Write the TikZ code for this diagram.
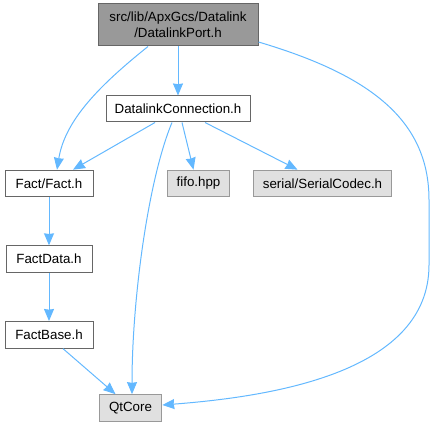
\documentclass[tikz,border=0pt]{standalone}
\usepackage{fontspec}
\setmainfont{Liberation Sans}
\usepackage{xcolor}
\usepackage{tikz}
\usetikzlibrary{arrows.meta, positioning, calc}
\definecolor{edgeblue}{HTML}{63B8FF}
\definecolor{hdrfill}{HTML}{999999}
\definecolor{hdrline}{HTML}{666666}
\definecolor{sysfill}{HTML}{E0E0E0}
\definecolor{sysline}{HTML}{999999}
\tikzstyle{hdr} = [rectangle, draw=hdrline, fill=hdrfill, line width=0.75pt, minimum width=120pt, minimum height=31.5pt, inner sep=0pt, align=center, font=\fontsize{10}{12}\selectfont]
\tikzstyle{file} = [rectangle, draw=hdrline, fill=white, line width=0.75pt, minimum height=20pt, inner sep=0pt, text centered, font=\fontsize{10}{12}\selectfont]
\tikzstyle{sys} = [rectangle, draw=sysline, fill=sysfill, line width=0.75pt, minimum height=20pt, inner sep=0pt, text centered, font=\fontsize{10}{12}\selectfont]
\tikzstyle{dep} = [-{Stealth[length=9pt, width=7.5pt, inset=0.5pt]}, draw=edgeblue, line width=0.75pt]

\begin{document}
\begin{tikzpicture}[x=0.75pt, y=-0.75pt]
  \useasboundingbox (0,0) rectangle (435,427);
  % Row 0 (the header itself)
  \node[hdr] (port) at (178,25) {src/lib/ApxGcs/Datalink\\/DatalinkPort.h};
  % Row 1
  \node[file, minimum width=108pt, minimum height=19.5pt] (conn) at (178,109) {DatalinkConnection.h};
  % Row 2
  \node[file, minimum width=66pt] (fact) at (49,183.5) {Fact/Fact.h};
  \node[sys, minimum width=47pt] (fifo) at (198.5,183.5) {fifo.hpp};
  \node[sys, minimum width=104pt] (codec) at (322.5,183.5) {serial/SerialCodec.h};
  % Fact chain
  \node[file, minimum width=64.5pt, below=36pt of fact] (fdata) {FactData.h};
  \node[file, minimum width=66pt, below=36pt of fdata] (fbase) {FactBase.h};
  % Qt
  \node[sys, minimum width=47pt] (qt) at (130.5,408) {QtCore};
  \draw[dep] (port.south) -- (conn.north);
  \draw[dep] ($(port.south)+(-30,0)$) .. controls (100,85) and (65,120) .. ($(fact.north)+(8,0)$);
  \draw[dep] ($(port.east)+(0,17)$) .. controls (370,75) and (429,120) .. (429,200)
    -- (429,265) .. controls (429,370) and (280,396) .. ($(qt.east)+(0,-3)$);
  \draw[dep] ($(conn.south)+(-23,0)$) -- ($(fact.north)+(24,0)$);
  \draw[dep] ($(conn.south)+(4,0)$) -- ($(fifo.north)+(-5,0)$);
  \draw[dep] ($(conn.south)+(27,0)$) -- ($(codec.north)+(-25,0)$);
  \draw[dep] ($(conn.south)+(-6,0)$) .. controls (148,180) and (132,300) .. ($(qt.north)+(1.5,0)$);
  \draw[dep] (fact) -- (fdata);
  \draw[dep] (fdata) -- (fbase);
  \draw[dep] ($(fbase.south)+(14,0)$) -- ($(qt.north)+(-15,0)$);
\end{tikzpicture}
\end{document}
